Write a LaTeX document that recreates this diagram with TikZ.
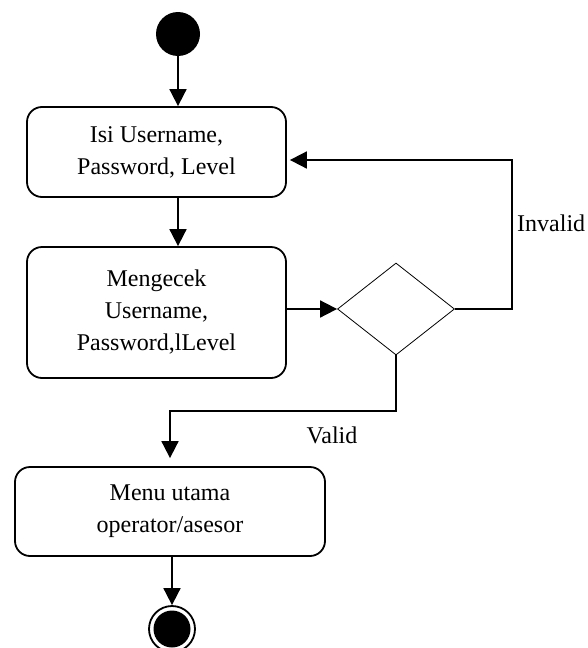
\documentclass[tikz,border=0pt]{standalone}
\usepackage{fontspec}
\setmainfont{Liberation Serif}
\usetikzlibrary{arrows.meta,shapes.geometric}
\begin{document}
\begin{tikzpicture}[x=1pt,y=-1pt,
  act/.style={draw, line width=1.8pt, rounded corners=15pt, align=center,
    font=\fontsize{24}{32}\selectfont, inner sep=0pt},
  flow/.style={line width=1.8pt, -{Triangle[width=17pt,length=17pt]}},
  lbl/.style={font=\fontsize{24}{28}\selectfont, inner sep=0pt}]
\useasboundingbox (0,0) rectangle (587,648);
\node[circle, fill=black, minimum size=44pt, inner sep=0pt] (start) at (178,34) {};
\node[act, minimum width=259pt, minimum height=90pt] (box1) at (156.5,152) {Isi Username,\\Password, Level};
\node[act, minimum width=259pt, minimum height=131pt] (box2) at (156.5,312.5) {Mengecek\\Username,\\Password,lLevel};
\node[diamond, draw, line width=0.8pt, minimum width=117pt, minimum height=92pt, inner sep=0pt] (dia) at (396,309) {};
\node[act, minimum width=310pt, minimum height=89pt] (box3) at (170,511.5) {Menu utama\\operator/asesor};
\node[circle, draw, line width=1.8pt, minimum size=46pt, inner sep=0pt] (end) at (172,629) {};
\node[circle, fill=black, minimum size=37pt, inner sep=0pt] (endin) at (end.center) {};
\coordinate (ret) at (512,160);
\coordinate (vbend) at (170,411);
\draw[flow] (start.south) -- (box1.north -| start.south);
\draw[flow] (box1.south -| start.south) -- (box2.north -| start.south);
\draw[flow] (box2.east |- dia.west) -- (dia.west);
\draw[flow, shorten >=3pt] (dia.east) -| (ret) -- (box1.east |- ret);
\draw[flow, shorten >=8pt] (dia.south) |- (vbend) -- (box3.north);
\draw[flow] (box3.south -| end.north) -- (end.north);
\node[lbl, anchor=west] (inv) at (517,223) {Invalid};
\node[lbl] (val) at (332,435) {Valid};
\end{tikzpicture}
\end{document}
